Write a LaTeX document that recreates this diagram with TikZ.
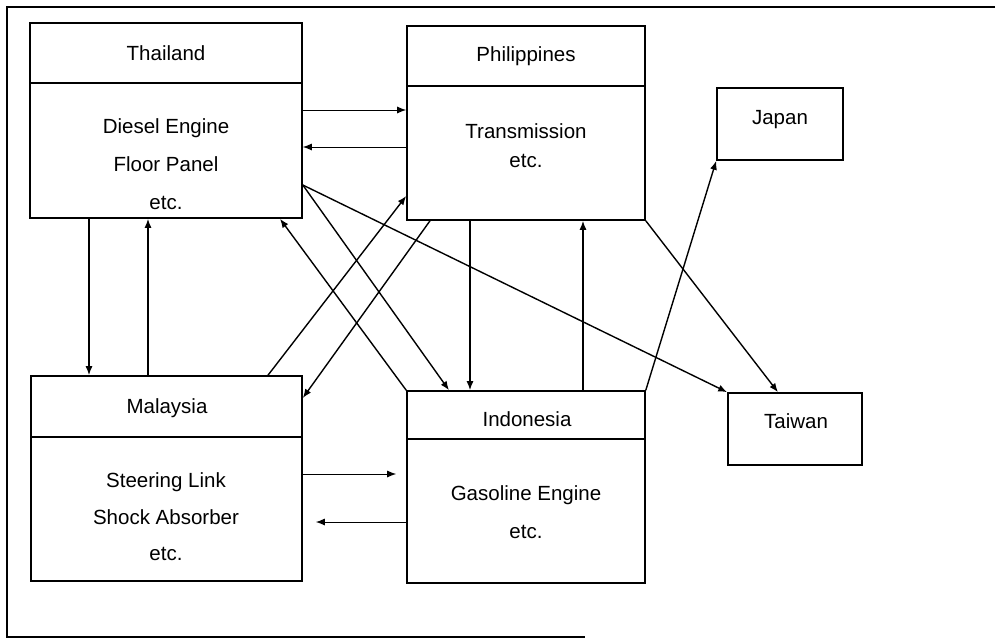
\documentclass[tikz,border=0pt]{standalone}
\usepackage{fontspec}
\setmainfont{Liberation Sans}
\usetikzlibrary{arrows.meta}
\begin{document}
\begin{tikzpicture}[x=1pt,y=-1pt,
  box/.style={draw, line width=1.6pt, rectangle, inner sep=0pt},
  lbl/.style={anchor=base, inner sep=0pt, font=\fontsize{20.5}{24}\selectfont},
  arr/.style={line width=1.4pt, -{Latex[length=9pt,width=7pt]}},
  harr/.style={line width=1pt, -{Latex[length=9pt,width=7pt]}},
  frame/.style={line width=1.3pt},
  divider/.style={line width=1.2pt}]
\useasboundingbox (0,0) rectangle (998,640);
% outer frame
\coordinate (f1) at (995,7);
\coordinate (f2) at (7,7);
\coordinate (f3) at (7,637);
\coordinate (f4) at (585,637);
\draw[frame] (f1) -- (f2) -- (f3) -- (f4);
% boxes
\node[box, minimum width=272pt, minimum height=195pt] (tha) at (166,120.5) {};
\node[box, minimum width=238pt, minimum height=194pt] (phi) at (526,123) {};
\node[box, minimum width=126pt, minimum height=72pt] (jap) at (780,124) {};
\node[box, minimum width=271pt, minimum height=205pt] (mal) at (166.5,478.5) {};
\node[box, minimum width=238pt, minimum height=192pt] (ind) at (526,487) {};
\node[box, minimum width=134pt, minimum height=72pt] (tai) at (795,429) {};
% dividers
\draw[divider] (tha.west |- 0,83) -- (tha.east |- 0,83);
\draw[divider] (phi.west |- 0,86) -- (phi.east |- 0,86);
\draw[divider] (mal.west |- 0,437) -- (mal.east |- 0,437);
\draw[divider] (ind.west |- 0,439) -- (ind.east |- 0,439);
% texts
\node[lbl] (t1) at (166,60) {Thailand};
\node[lbl] (t2) at (166,133) {Diesel Engine};
\node[lbl] (t3) at (166,171) {Floor Panel};
\node[lbl] (t4) at (166,209) {etc.};
\node[lbl] (p1) at (526,61) {Philippines};
\node[lbl] (p2) at (526,138) {Transmission};
\node[lbl] (p3) at (526,167) {etc.};
\node[lbl] (j1) at (780,124) {Japan};
\node[lbl] (m1) at (167,413) {Malaysia};
\node[lbl] (m2) at (166,487) {Steering Link};
\node[lbl] (m3) at (166,524) {Shock Absorber};
\node[lbl] (m4) at (166,560) {etc.};
\node[lbl] (i1) at (527,426) {Indonesia};
\node[lbl] (i2) at (526,500) {Gasoline Engine};
\node[lbl] (i3) at (526,538) {etc.};
\node[lbl] (w1) at (796,428) {Taiwan};
% horizontal arrows
\draw[harr] (tha.east |- 0,110) -- (phi.west |- 0,110);
\draw[harr] (phi.west |- 0,147) -- (tha.east |- 0,147);
\draw[harr, shorten >=10pt] (mal.east |- 0,474) -- (ind.west |- 0,474);
\draw[harr, shorten >=13pt] (ind.west |- 0,522) -- (mal.east |- 0,522);
% vertical arrows
\draw[arr] (tha.south -| 89,0) -- (mal.north -| 89,0);
\draw[arr] (mal.north -| 148,0) -- (tha.south -| 148,0);
\draw[arr] (phi.south -| 470,0) -- (ind.north -| 470,0);
\draw[arr] (ind.north -| 583,0) -- (phi.south -| 583,0);
% diagonal arrows
\draw[arr] (tha.east |- 0,185) -- (tai.north west);
\draw[arr] (tha.east |- 0,185) -- (ind.north -| 449,0);
\draw[arr] (ind.north west) -- (tha.south -| 280,0);
\draw[arr] (mal.north -| 268,0) -- (phi.west |- 0,196);
\draw[arr] (phi.south -| 430,0) -- (mal.east |- 0,398);
\draw[arr] (phi.south east) -- (tai.north -| 778,0);
\draw[arr] (ind.north east) -- (jap.south west);
\end{tikzpicture}
\end{document}
